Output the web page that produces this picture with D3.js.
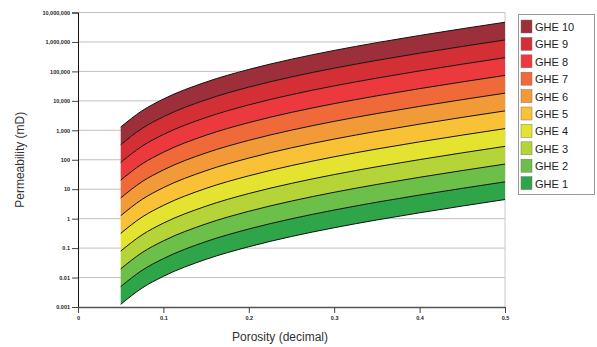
<!DOCTYPE html>
<html>
<head>
<meta charset="utf-8">
<script src="https://cdn.jsdelivr.net/npm/d3@7"></script>
<style>
    body { margin: 0; background: #fff; }
    svg { display: block; font-family: Arial, "Liberation Sans", sans-serif; }
    .tick-label { font-size: 5.5px; font-weight: bold; fill: #222; }
    .axis-title { font-size: 12px; fill: #333; }
    .legend-text { font-size: 11px; fill: #222; }
</style>
</head>
<body>
<div id="chart"></div>
<script>
// porosity samples where the boundary curves were read
const porosity = [0.05, 0.075, 0.1, 0.15, 0.2, 0.25, 0.3, 0.35, 0.4, 0.45, 0.5];

// permeability (mD) of each GHE boundary curve, bottom (GHE 1 lower) to top (GHE 10 upper)
const boundaries = [
    [0.00123, 0.0044, 0.011, 0.0416, 0.111, 0.248, 0.491, 0.904, 1.58, 2.68, 4.46],
    [0.00494, 0.0176, 0.044, 0.167, 0.446, 0.99, 1.96, 3.62, 6.34, 10.7, 17.8],
    [0.0197, 0.0703, 0.176, 0.666, 1.78, 3.96, 7.86, 14.5, 25.4, 43.0, 71.3],
    [0.079, 0.281, 0.704, 2.66, 7.13, 15.8, 31.4, 57.9, 101, 172, 285],
    [0.316, 1.13, 2.82, 10.7, 28.5, 63.4, 126, 232, 406, 687, 1141],
    [1.26, 4.5, 11.3, 42.6, 114, 254, 503, 926, 1622, 2749, 4563],
    [5.05, 18.0, 45.1, 171, 456, 1014, 2012, 3704, 6490, 11000, 18250],
    [20.2, 72.0, 180, 682, 1825, 4057, 8046, 14820, 25960, 43990, 73010],
    [80.9, 288, 721, 2728, 7301, 16230, 32190, 59270, 103800, 175900, 292000],
    [323, 1152, 2884, 10910, 29200, 64910, 128700, 237100, 415300, 703800, 1168000],
    [1294, 4609, 11540, 43650, 116800, 259600, 515000, 948300, 1661000, 2815000, 4672000],
];

const groups = ['GHE 1', 'GHE 2', 'GHE 3', 'GHE 4', 'GHE 5', 'GHE 6', 'GHE 7', 'GHE 8', 'GHE 9', 'GHE 10'];
const groupColors = ['#2ea548', '#6cbf48', '#b4d438', '#e4e32f', '#f8c136', '#f39a38', '#ef6a38', '#ec393d', '#d52f36', '#9c2f39'];

const yTicks = [0.001, 0.01, 0.1, 1, 10, 100, 1000, 10000, 100000, 1000000, 10000000];
const yTickLabels = ['0.001', '0.01', '0.1', '1', '10', '100', '1,000', '10,000', '100,000', '1,000,000', '10,000,000'];
const xTicks = [0, 0.1, 0.2, 0.3, 0.4, 0.5];
const xTickLabels = ['0', '0.1', '0.2', '0.3', '0.4', '0.5'];

const width = 597;
const height = 347;
const plot = { left: 78, right: 505, top: 12.5, bottom: 307 };

const svg = d3.select('#chart')
    .append('svg')
        .attr('width', width)
        .attr('height', height);

const x = d3.scaleLinear()
    .domain([0, 0.5])
    .range([plot.left, plot.right]);

const y = d3.scaleLog()
    .domain([0.001, 10000000])
    .range([plot.bottom, plot.top]);

// gridlines
svg.append('g')
    .selectAll('line')
    .data(yTicks.slice(1))
    .join('line')
        .attr('x1', plot.left)
        .attr('x2', plot.right)
        .attr('y1', d => y(d))
        .attr('y2', d => y(d))
        .attr('stroke', '#c4c0c0')
        .attr('stroke-width', 1);

svg.append('line')
    .attr('x1', plot.right)
    .attr('x2', plot.right)
    .attr('y1', plot.top)
    .attr('y2', plot.bottom)
    .attr('stroke', '#c8c8c8');

// bands
const band = d3.area()
    .curve(d3.curveMonotoneX)
    .x((d, i) => x(porosity[i]))
    .y0(d => y(d[0]))
    .y1(d => y(d[1]));

groups.forEach((g, i) => {
    const rows = porosity.map((p, j) => [boundaries[i][j], boundaries[i + 1][j]]);
    svg.append('path')
        .datum(rows)
        .attr('fill', groupColors[i])
        .attr('d', band);
});

const line = d3.line()
    .curve(d3.curveMonotoneX)
    .x((d, i) => x(porosity[i]))
    .y(d => y(d));

svg.append('g')
    .selectAll('path')
    .data(boundaries)
    .join('path')
        .attr('fill', 'none')
        .attr('stroke', '#111')
        .attr('stroke-width', 1)
        .attr('d', line);

// y axis
const yAxis = d3.axisLeft(y)
    .tickValues(yTicks)
    .tickSize(6)
    .tickFormat((d, i) => yTickLabels[i]);

const gy = svg.append('g')
    .attr('transform', `translate(${plot.left},0)`)
    .call(yAxis);
gy.select('.domain').attr('stroke', '#111');
gy.selectAll('.tick line').attr('stroke', '#444');
gy.selectAll('.tick text')
    .attr('class', 'tick-label')
    .attr('x', -8);

// x axis
const xAxis = d3.axisBottom(x)
    .tickValues(xTicks)
    .tickSize(6)
    .tickSizeOuter(0)
    .tickFormat((d, i) => xTickLabels[i]);

const gx = svg.append('g')
    .attr('transform', `translate(0,${plot.bottom})`)
    .call(xAxis);
gx.select('.domain').attr('stroke', '#555').attr('stroke-width', 1.5);
gx.selectAll('.tick line').attr('stroke', '#444');
gx.selectAll('.tick text')
    .attr('class', 'tick-label')
    .attr('y', 9);

// titles
svg.append('text')
    .attr('class', 'axis-title')
    .attr('text-anchor', 'middle')
    .attr('transform', `translate(24,${(plot.top + plot.bottom) / 2}) rotate(-90)`)
    .text('Permeability (mD)');

svg.append('text')
    .attr('class', 'axis-title')
    .attr('text-anchor', 'middle')
    .attr('x', 280)
    .attr('y', 341)
    .text('Porosity (decimal)');

// legend
const legend = svg.append('g');
legend.append('rect')
    .attr('x', 518.5)
    .attr('y', 14.5)
    .attr('width', 76)
    .attr('height', 180)
    .attr('fill', '#fff')
    .attr('stroke', '#999');

const legendItems = groups.slice().reverse();
const legendColors = groupColors.slice().reverse();

const item = legend.selectAll('g.item')
    .data(legendItems)
    .join('g')
        .attr('class', 'item')
        .attr('transform', (d, i) => `translate(521,${20 + i * 17.4})`);

item.append('rect')
    .attr('width', 11)
    .attr('height', 13)
    .attr('fill', (d, i) => legendColors[i])
    .attr('stroke', '#777')
    .attr('stroke-width', 0.5);

item.append('text')
    .attr('class', 'legend-text')
    .attr('x', 14)
    .attr('y', 11)
    .text(d => d);
</script>
</body>
</html>
